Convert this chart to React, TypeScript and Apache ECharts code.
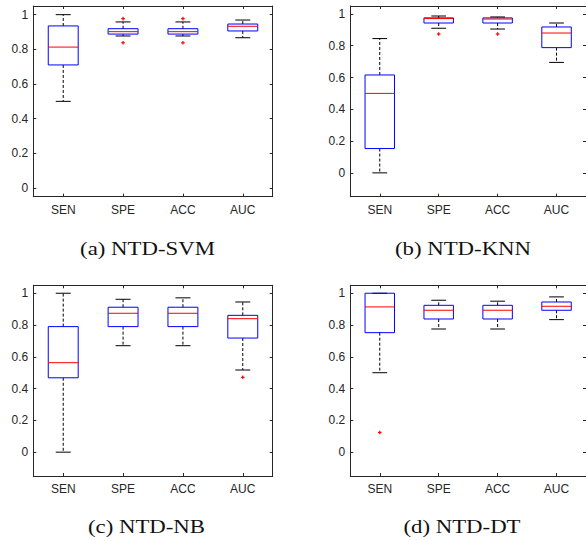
import React, { useEffect, useRef } from "react";
import * as echarts from "echarts";

const categories = ["SEN", "SPE", "ACC", "AUC"];
const yTicks = [0, 0.2, 0.4, 0.6, 0.8, 1];

// [lowerWhisker, Q1, median, Q3, upperWhisker]
const svmBoxes = [
  [0.5, 0.71, 0.813, 0.935, 1.0],
  [0.877, 0.888, 0.902, 0.919, 0.958],
  [0.877, 0.888, 0.902, 0.919, 0.958],
  [0.867, 0.906, 0.933, 0.946, 0.969],
];
const svmOutliers = [
  [1, 0.977],
  [1, 0.838],
  [2, 0.977],
  [2, 0.838],
];

const knnBoxes = [
  [0, 0.153, 0.5, 0.616, 0.845],
  [0.91, 0.943, 0.971, 0.975, 0.987],
  [0.905, 0.943, 0.968, 0.975, 0.981],
  [0.695, 0.788, 0.88, 0.918, 0.943],
];
const knnOutliers = [
  [1, 0.874],
  [2, 0.874],
];

const nbBoxes = [
  [0, 0.468, 0.563, 0.79, 1.0],
  [0.67, 0.79, 0.874, 0.912, 0.962],
  [0.67, 0.79, 0.874, 0.912, 0.971],
  [0.517, 0.718, 0.84, 0.861, 0.945],
];
const nbOutliers = [[3, 0.471]];

const dtBoxes = [
  [0.5, 0.752, 0.914, 1.0, 1.0],
  [0.775, 0.838, 0.893, 0.924, 0.956],
  [0.775, 0.838, 0.893, 0.924, 0.95],
  [0.834, 0.893, 0.918, 0.945, 0.977],
];
const dtOutliers = [[0, 0.124]];

const captions = ["(a) NTD-SVM", "(b) NTD-KNN", "(c) NTD-NB", "(d) NTD-DT"];

const panels = [
  { boxes: svmBoxes, outliers: svmOutliers, yMin: -0.05, yMax: 1.05 },
  { boxes: knnBoxes, outliers: knnOutliers, yMin: -0.15, yMax: 1.05 },
  { boxes: nbBoxes, outliers: nbOutliers, yMin: -0.15, yMax: 1.05 },
  { boxes: dtBoxes, outliers: dtOutliers, yMin: -0.15, yMax: 1.05 },
];

const gridPos = [
  { left: 33.3, top: 6 },
  { left: 350.3, top: 6 },
  { left: 33.3, top: 285.3 },
  { left: 350.3, top: 285.3 },
];
const captionPos = [
  { x: 147.5, y: 248.5 },
  { x: 463, y: 248.5 },
  { x: 146.5, y: 526.5 },
  { x: 462, y: 526.5 },
];

const AXIS_COLOR = "#262626";

function buildOption() {
  const grid: any[] = [];
  const xAxis: any[] = [];
  const yAxis: any[] = [];
  const series: any[] = [];
  const graphic: any[] = [];

  panels.forEach((p, i) => {
    grid.push({
      left: gridPos[i].left,
      top: gridPos[i].top,
      width: 239.4,
      height: 190.7,
      containLabel: false,
    });
    const axisLine = { show: true, onZero: false, lineStyle: { color: AXIS_COLOR, width: 1 } };
    const tick = { show: true, inside: true, length: 3, lineStyle: { color: AXIS_COLOR, width: 1 } };
    xAxis.push({
      type: "category",
      gridIndex: i,
      position: "bottom",
      data: categories,
      boundaryGap: true,
      axisLine,
      axisTick: { ...tick, alignWithLabel: true },
      axisLabel: {
        color: AXIS_COLOR,
        fontFamily: "Liberation Sans",
        fontSize: 12,
        margin: 7,
      },
      splitLine: { show: false },
    });
    xAxis.push({
      type: "category",
      gridIndex: i,
      position: "top",
      data: categories,
      boundaryGap: true,
      axisLine,
      axisTick: { ...tick, alignWithLabel: true },
      axisLabel: { show: false },
      splitLine: { show: false },
    });
    yAxis.push({
      type: "value",
      gridIndex: i,
      position: "left",
      min: p.yMin,
      max: p.yMax,
      axisLine,
      axisTick: { ...tick, customValues: yTicks },
      axisLabel: {
        customValues: yTicks,
        color: AXIS_COLOR,
        fontFamily: "Liberation Sans",
        fontSize: 12,
        margin: 5,
        formatter: (v: number) => String(Math.round(v * 10) / 10),
      },
      splitLine: { show: false },
    });
    yAxis.push({
      type: "value",
      gridIndex: i,
      position: "right",
      min: p.yMin,
      max: p.yMax,
      axisLine,
      axisTick: { ...tick, customValues: yTicks },
      axisLabel: { show: false, customValues: yTicks },
      splitLine: { show: false },
    });

    series.push({
      type: "custom",
      xAxisIndex: i * 2,
      yAxisIndex: i * 2,
      clip: false,
      encode: { x: 0, y: [1, 2, 3, 4, 5] },
      data: p.boxes.map((b, k) => [k, ...b]),
      renderItem: (params: any, api: any) => {
        const idx = api.value(0);
        const lw = api.value(1);
        const q1 = api.value(2);
        const med = api.value(3);
        const q3 = api.value(4);
        const uw = api.value(5);
        const band = api.size([1, 0])[0];
        const c = api.coord([idx, med]);
        const cx = c[0];
        const yLw = api.coord([idx, lw])[1];
        const yQ1 = api.coord([idx, q1])[1];
        const yMed = c[1];
        const yQ3 = api.coord([idx, q3])[1];
        const yUw = api.coord([idx, uw])[1];
        const bh = band * 0.25;
        const ch = band * 0.125;
        const children: any[] = [];
        const dash = { stroke: "#000", lineWidth: 1, lineDash: [3, 2] };
        if (Math.abs(yUw - yQ3) > 0.5)
          children.push({ type: "line", shape: { x1: cx, y1: yQ3, x2: cx, y2: yUw }, style: dash });
        if (Math.abs(yLw - yQ1) > 0.5)
          children.push({ type: "line", shape: { x1: cx, y1: yQ1, x2: cx, y2: yLw }, style: dash });
        children.push({
          type: "line",
          shape: { x1: cx - ch, y1: yUw, x2: cx + ch, y2: yUw },
          style: { stroke: "#000", lineWidth: 1 },
        });
        children.push({
          type: "line",
          shape: { x1: cx - ch, y1: yLw, x2: cx + ch, y2: yLw },
          style: { stroke: "#000", lineWidth: 1 },
        });
        children.push({
          type: "rect",
          shape: { x: cx - bh, y: yQ3, width: bh * 2, height: yQ1 - yQ3 },
          style: { fill: "none", stroke: "#0000ff", lineWidth: 1 },
        });
        children.push({
          type: "line",
          shape: { x1: cx - bh, y1: yMed, x2: cx + bh, y2: yMed },
          style: { stroke: "#ff0000", lineWidth: 1 },
        });
        return { type: "group", children };
      },
    });

    series.push({
      type: "custom",
      xAxisIndex: i * 2,
      yAxisIndex: i * 2,
      clip: false,
      encode: { x: 0, y: 1 },
      data: p.outliers,
      renderItem: (params: any, api: any) => {
        const pt = api.coord([api.value(0), api.value(1)]);
        const s = 1.8;
        const st = { stroke: "#ff0000", lineWidth: 1.2 };
        return {
          type: "group",
          children: [
            { type: "line", shape: { x1: pt[0] - s, y1: pt[1], x2: pt[0] + s, y2: pt[1] }, style: st },
            { type: "line", shape: { x1: pt[0], y1: pt[1] - s, x2: pt[0], y2: pt[1] + s }, style: st },
          ],
        };
      },
    });

    graphic.push({
      type: "text",
      x: captionPos[i].x,
      y: captionPos[i].y,
      scaleX: 1.2,
      scaleY: 1,
      style: {
        text: captions[i],
        fontFamily: "Liberation Serif",
        fontSize: 19,
        fill: "#111",
        align: "center",
        verticalAlign: "middle",
      },
    });
  });

  return {
    animation: false,
    backgroundColor: "#ffffff",
    grid,
    xAxis,
    yAxis,
    series,
    graphic,
  };
}

export default function App() {
  const ref = useRef<HTMLDivElement>(null);
  useEffect(() => {
    if (!ref.current) return;
    const chart = echarts.init(ref.current, undefined, { renderer: "svg" });
    chart.setOption(buildOption() as any);
    return () => chart.dispose();
  }, []);
  return (
    <div
      ref={ref}
      style={{ position: "absolute", left: 0, top: 0, width: 586, height: 541, background: "#fff" }}
    />
  );
}
